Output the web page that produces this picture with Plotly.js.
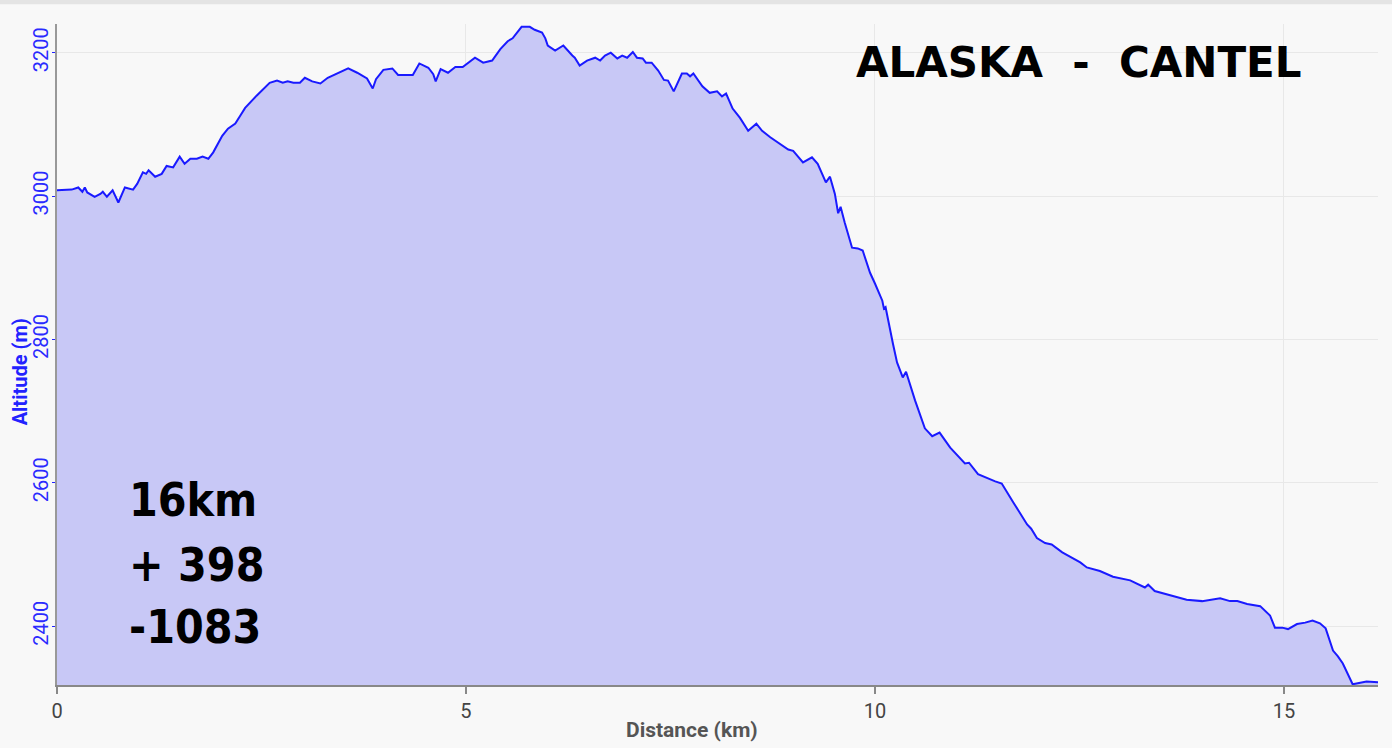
<!DOCTYPE html>
<html>
<head>
<meta charset="utf-8">
<script src="https://cdn.plot.ly/plotly-3.0.1.min.js"></script>
<style>
  html, body { margin: 0; padding: 0; background: #f8f8f8; }
  #chart { width: 1392px; height: 748px; }
</style>
</head>
<body>
<div id="chart"></div>
<script>
// Distance along the trail (km)
const distanceKm = [
  0.00, 0.18, 0.26, 0.31, 0.34, 0.37, 0.46, 0.53, 0.56, 0.61, 0.68, 0.75, 0.83, 0.93, 0.98,
  1.05, 1.09, 1.12, 1.20, 1.28, 1.34, 1.42, 1.50, 1.56, 1.63, 1.71, 1.78, 1.85, 1.91,
  2.02, 2.09, 2.18, 2.24, 2.30, 2.44, 2.60, 2.69, 2.76, 2.82, 2.89, 2.97,
  3.03, 3.12, 3.22, 3.31, 3.42, 3.56, 3.67, 3.79, 3.86, 3.90, 3.99,
  4.10, 4.17, 4.35, 4.43, 4.54, 4.60, 4.63, 4.69, 4.78, 4.87, 4.96,
  5.11, 5.21, 5.32, 5.42, 5.51, 5.57, 5.68, 5.78, 5.84, 5.93, 5.97,
  6.00, 6.09, 6.19, 6.30, 6.33, 6.39, 6.48, 6.58, 6.64, 6.70, 6.77, 6.85, 6.91, 6.97,
  7.04, 7.09, 7.16, 7.20, 7.27, 7.35, 7.42, 7.47, 7.54, 7.64, 7.70, 7.74, 7.78, 7.89, 7.98,
  8.07, 8.13, 8.18, 8.26, 8.35, 8.45, 8.55, 8.62, 8.72, 8.84, 8.94,
  9.00, 9.12, 9.23, 9.30, 9.40, 9.45, 9.51, 9.55, 9.58, 9.63, 9.72, 9.79, 9.85, 9.94,
  10.00, 10.09, 10.11, 10.13, 10.22, 10.27, 10.34, 10.38, 10.49, 10.61, 10.70, 10.79, 10.92,
  11.10, 11.15, 11.26, 11.47, 11.55, 11.69, 11.86, 11.91, 11.98,
  12.08, 12.16, 12.29, 12.51, 12.59, 12.75, 12.91,
  13.12, 13.30, 13.34, 13.42, 13.63, 13.81,
  14.00, 14.22, 14.34, 14.43, 14.55, 14.71, 14.83, 14.89, 14.98,
  15.05, 15.16, 15.26, 15.35, 15.44, 15.51, 15.60, 15.66, 15.72, 15.84,
  16.01, 16.15
];

// Altitude (m)
const altitudeM = [
  3008, 3009, 3012, 3006, 3012, 3005, 2999, 3003, 3006, 2999, 3008, 2991, 3012, 3009, 3017,
  3033, 3031, 3036, 3027, 3031, 3042, 3040, 3055, 3045, 3052, 3052, 3055, 3052, 3061,
  3084, 3094, 3101, 3112, 3123, 3140, 3158, 3161, 3158, 3160, 3158, 3158,
  3165, 3160, 3157, 3165, 3171, 3178, 3172, 3164, 3150, 3163, 3176,
  3178, 3169, 3169, 3185, 3179, 3170, 3160, 3177, 3172, 3180, 3180,
  3193, 3186, 3189, 3205, 3216, 3220, 3236, 3236, 3232, 3228, 3220,
  3210, 3203, 3210, 3196, 3193, 3182, 3189, 3193, 3189, 3196, 3200, 3192, 3196, 3193,
  3201, 3193, 3192, 3186, 3186, 3175, 3162, 3161, 3146, 3171, 3171, 3167, 3171, 3153, 3144,
  3146, 3139, 3143, 3122, 3109, 3091, 3101, 3091, 3082, 3073, 3065,
  3063, 3047, 3054, 3045, 3019, 3027, 3003, 2976, 2985, 2963, 2928, 2927, 2924, 2893,
  2878, 2854, 2843, 2845, 2794, 2768, 2747, 2755, 2715, 2676, 2665, 2670, 2649,
  2627, 2628, 2612, 2602, 2599, 2573, 2542, 2536, 2523,
  2516, 2514, 2503, 2489, 2482, 2477, 2469,
  2464, 2454, 2458, 2449, 2443, 2437,
  2435, 2439, 2435, 2435, 2431, 2428, 2415, 2398, 2398,
  2396, 2403, 2405, 2408, 2404, 2397, 2366, 2358, 2348, 2319,
  2323, 2322
];

const xTickVals = [0, 5, 10, 15];
const yTickVals = [2400, 2600, 2800, 3000, 3200];
const chartTitle = 'ALASKA  -  CANTEL';
const statLines = ['16km', '+ 398', '-1083'];
const xTitle = 'Distance (km)';
const yTitle = 'Altitude (m)';

const trace = {
  x: distanceKm,
  y: altitudeM,
  type: 'scatter',
  mode: 'lines',
  line: { color: '#1a1aff', width: 2, shape: 'linear' },
  fill: 'tozeroy',
  fillcolor: 'rgba(200,200,246,1)',
  hoverinfo: 'x+y'
};

const statY = [0.280, 0.182, 0.088];
const annotations = [
  {
    text: chartTitle, xref: 'paper', yref: 'paper', x: 0.774, y: 0.941,
    xanchor: 'center', yanchor: 'middle', showarrow: false,
    font: { family: 'DejaVu Sans', size: 42, color: '#000', weight: 900 }
  },
  {
    text: '<b>' + yTitle + '</b>', xref: 'paper', yref: 'paper', x: -0.028, y: 0.473,
    xanchor: 'center', yanchor: 'middle', showarrow: false, textangle: -90,
    font: { family: 'Roboto', size: 20, color: '#2222ff' }
  },
  {
    text: '<b>' + xTitle + '</b>', xref: 'paper', yref: 'paper', x: 0.481, y: -0.068,
    xanchor: 'center', yanchor: 'middle', showarrow: false,
    font: { family: 'Roboto', size: 21, color: '#555555' }
  }
];
statLines.forEach((t, i) => {
  annotations.push({
    text: '<b>' + t + '</b>', xref: 'paper', yref: 'paper', x: 0.053, y: statY[i],
    xanchor: 'left', yanchor: 'middle', showarrow: false,
    font: { family: 'DejaVu Sans Condensed, Liberation Sans Narrow, Roboto Condensed, DejaVu Sans', size: 46, color: '#000', weight: 'bold', stretch: 'condensed' }
  });
});

const layout = {
  width: 1392,
  height: 748,
  margin: { l: 57, r: 14, t: 24, b: 63 },
  paper_bgcolor: '#f8f8f8',
  plot_bgcolor: '#f8f8f8',
  showlegend: false,
  xaxis: {
    range: [0, 16.15],
    tickvals: xTickVals,
    ticktext: xTickVals.map(String),
    ticks: 'outside', ticklen: 7, tickwidth: 1.5, tickcolor: '#888',
    showline: true, linecolor: '#888', linewidth: 2,
    showgrid: true, gridcolor: '#e8e8e8', gridwidth: 1,
    zeroline: false,
    tickfont: { family: 'Roboto', size: 20, color: '#444' }
  },
  yaxis: {
    range: [2318, 3240],
    tickvals: yTickVals,
    ticktext: yTickVals.map(String),
    tickangle: -90,
    ticks: 'outside', ticklen: 3, tickwidth: 1, tickcolor: '#2222ff',
    ticklabelstandoff: -4,
    showline: true, linecolor: '#999', linewidth: 2,
    showgrid: true, gridcolor: '#e8e8e8', gridwidth: 1,
    zeroline: false,
    tickfont: { family: 'Roboto', size: 20, color: '#2a2aff' }
  },
  shapes: [
    { type: 'rect', xref: 'paper', yref: 'paper', x0: -0.05, x1: 1.02, y0: 1.03, y1: 1.04,
      fillcolor: '#e4e4e4', line: { width: 0 }, layer: 'below' }
  ],
  annotations: annotations
};

Plotly.newPlot('chart', [trace], layout, { displayModeBar: false, staticPlot: true });
</script>
</body>
</html>
